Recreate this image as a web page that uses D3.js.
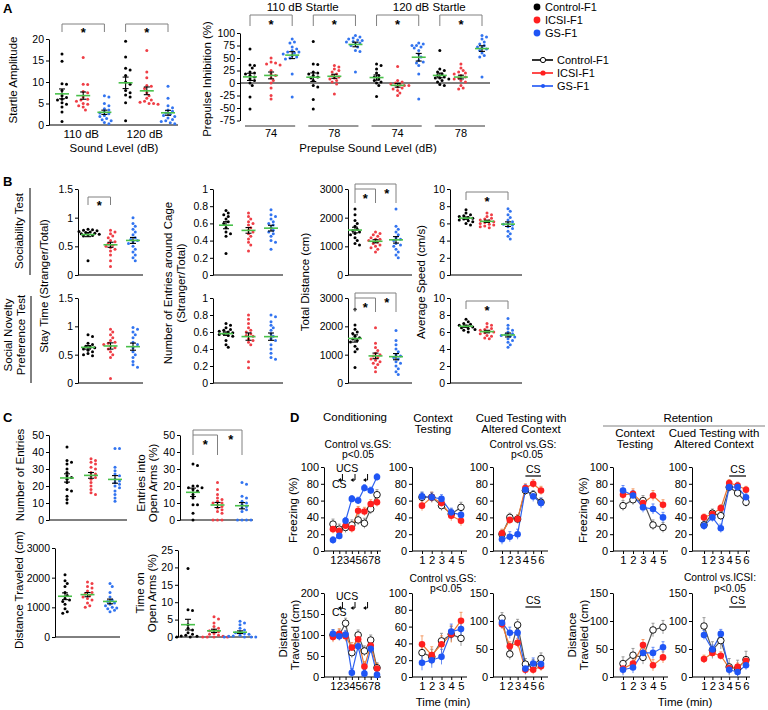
<!DOCTYPE html>
<html lang="en">
<head>
<meta charset="UTF-8">
<title>F1 behaviour</title>
<script src="https://d3js.org/d3.v7.min.js"></script>
<style>
  body { margin: 0; background: #fff; }
  svg text { font-family: "Liberation Sans", Arial, Helvetica, sans-serif; fill: #000; }
</style>
</head>
<body>
<svg id="fig" width="768" height="710"></svg>
<script>
// ---------- data ----------
const groupNames = ['Control-F1', 'ICSI-F1', 'GS-F1'];
const startleLevels = ['110 dB', '120 dB'];
const startleNames = ['110 dB Startle', '120 dB Startle'];
const prepulseLevels = ['74', '78', '74', '78'];

// A: startle amplitude, [control, icsi, gs]
const startle110 = [
  [16.5, 14.8, 9.6, 9.5, 8.0, 6.8, 6.4, 6.0, 5.8, 5.2, 4.8, 4.2, 3.0, 0.8],
  [15.7, 9.5, 9.4, 7.8, 7.5, 6.5, 6.0, 5.8, 5.5, 5.0, 4.8, 4.2, 3.5, 4.5],
  [6.8, 6.5, 5.0, 4.5, 3.8, 3.5, 3.0, 2.6, 2.2, 2.0, 1.5, 1.2, 1.0, 0.6, 0.3, 2.8]
];
const startle120 = [
  [19.5, 15.8, 13.2, 12.8, 11.5, 10.0, 9.5, 8.0, 7.5, 7.0, 6.5, 5.2, 1.0],
  [17.3, 12.3, 11.0, 9.2, 8.5, 7.5, 6.8, 6.2, 5.8, 5.5, 5.3, 5.0, 5.0, 9.0, 4.8],
  [9.0, 6.2, 4.5, 4.0, 3.5, 3.2, 2.8, 2.5, 2.2, 2.0, 1.6, 1.3, 1.0, 0.8, 0.5, 0.3]
];
// A: prepulse inhibition (%)
const ppi110_74 = [
  [68, 36, 35, 30, 22, 20, 18, 15, 12, 8, 5, 0, -5, -28, -52],
  [50, 42, 40, 38, 36, 25, 18, 15, 10, 5, 0, -10, -25, -32],
  [88, 82, 80, 72, 68, 62, 60, 58, 55, 52, 50, 48, 18, -28, 62, 65]
];
const ppi110_78 = [
  [83, 38, 37, 22, 20, 18, 15, 10, 5, -5, -8, -33, -52, 12],
  [35, 32, 28, 25, 22, 18, 15, 12, 10, 8, 5, 2, -2, -22],
  [95, 92, 90, 88, 86, 85, 83, 82, 80, 78, 75, 72, 65, 63, 22]
];
const ppi120_74 = [
  [38, 35, 28, 20, 15, 12, 8, 5, 2, 0, -5, -27],
  [33, 5, 0, -2, -3, -5, -5, -8, -10, -12, -15, -20, -25, 2],
  [80, 78, 75, 72, 70, 65, 58, 52, 45, 42, 40, 35, 18, -32, 75]
];
const ppi120_78 = [
  [65, 28, 25, 22, 18, 15, 12, 10, 8, 5, 2, -3, -5, 10],
  [38, 30, 25, 22, 18, 15, 12, 10, 8, 5, 2, -5, -10, -12, 20],
  [95, 92, 88, 82, 78, 75, 72, 70, 68, 65, 60, 55, 52, 12]
];

// B: three-chamber test
const socStay = [
  [0.80, 0.79, 0.78, 0.77, 0.76, 0.75, 0.74, 0.73, 0.72, 0.71, 0.70, 0.69, 0.68, 0.25],
  [0.78, 0.75, 0.72, 0.68, 0.65, 0.60, 0.58, 0.55, 0.52, 0.50, 0.48, 0.45, 0.42, 0.35, 0.25, 0.15],
  [1.0, 0.90, 0.85, 0.80, 0.75, 0.70, 0.65, 0.62, 0.60, 0.58, 0.55, 0.50, 0.45, 0.40, 0.35, 0.30, 0.25]
];
const socEntries = [
  [0.75, 0.72, 0.70, 0.68, 0.65, 0.62, 0.60, 0.55, 0.50, 0.48, 0.45, 0.25],
  [0.72, 0.68, 0.65, 0.62, 0.60, 0.58, 0.55, 0.52, 0.50, 0.48, 0.45, 0.42, 0.38, 0.35, 0.28],
  [0.76, 0.70, 0.68, 0.65, 0.62, 0.60, 0.58, 0.55, 0.52, 0.50, 0.48, 0.45, 0.40, 0.38, 0.30]
];
const socDistance = [
  [2300, 2100, 1900, 1800, 1700, 1600, 1550, 1500, 1450, 1400, 1300, 1200, 1100, 1050],
  [1500, 1450, 1400, 1350, 1300, 1250, 1200, 1150, 1100, 1050, 1000, 950, 900, 800, 1250],
  [2300, 1700, 1600, 1500, 1400, 1300, 1200, 1100, 1000, 900, 800, 700, 600, 1250, 1050]
];
const socSpeed = [
  [7.6, 7.2, 7.0, 6.9, 6.8, 6.7, 6.6, 6.5, 6.3, 6.2, 6.0, 5.8, 6.4],
  [7.2, 7.0, 6.8, 6.6, 6.5, 6.3, 6.2, 6.1, 6.0, 5.9, 5.8, 5.7, 5.6, 5.5, 6.4],
  [7.7, 7.4, 7.0, 6.7, 6.4, 6.2, 6.0, 5.9, 5.8, 5.6, 5.4, 5.1, 4.8, 4.5, 4.2]
];
const novStay = [
  [0.85, 0.82, 0.70, 0.68, 0.65, 0.63, 0.62, 0.60, 0.58, 0.55, 0.52, 0.50, 0.48],
  [0.95, 0.90, 0.85, 0.80, 0.75, 0.72, 0.70, 0.68, 0.65, 0.62, 0.60, 0.55, 0.50, 0.45, 0.08],
  [0.98, 0.95, 0.90, 0.85, 0.80, 0.72, 0.68, 0.62, 0.55, 0.50, 0.45, 0.38, 0.32, 0.28]
];
const novEntries = [
  [0.70, 0.68, 0.65, 0.63, 0.62, 0.61, 0.60, 0.59, 0.58, 0.57, 0.56, 0.55, 0.50, 0.45, 0.42],
  [0.80, 0.75, 0.70, 0.65, 0.62, 0.60, 0.58, 0.56, 0.55, 0.52, 0.50, 0.48, 0.45, 0.25, 0.18],
  [0.80, 0.78, 0.72, 0.68, 0.65, 0.62, 0.58, 0.55, 0.52, 0.50, 0.45, 0.40, 0.35, 0.30, 0.28]
];
const novDistance = [
  [2600, 2050, 1900, 1800, 1750, 1650, 1600, 1550, 1500, 1450, 1300, 1200, 1100, 550],
  [1950, 1400, 1250, 1150, 1050, 1000, 950, 900, 850, 800, 750, 700, 650, 550, 400],
  [1850, 1500, 1350, 1200, 1100, 1000, 950, 900, 850, 750, 700, 600, 500, 400, 300]
];
const novSpeed = [
  [7.5, 7.2, 7.0, 6.9, 6.8, 6.7, 6.6, 6.5, 6.4, 6.3, 6.2, 6.0],
  [7.0, 6.8, 6.6, 6.4, 6.3, 6.2, 6.1, 6.0, 5.9, 5.8, 5.6, 5.5, 5.3, 5.2],
  [7.6, 6.8, 6.4, 6.2, 6.0, 5.8, 5.7, 5.6, 5.5, 5.4, 5.2, 5.0, 4.8, 4.5, 4.2]
];

// C: elevated plus maze
const epmEntries = [
  [43, 35, 34, 33, 30, 28, 26, 25, 24, 22, 18, 17, 14, 12, 10],
  [36, 35, 34, 33, 31, 30, 28, 27, 26, 25, 24, 22, 20, 18, 16, 15],
  [42, 42, 31, 29, 27, 26, 24, 23, 22, 21, 20, 19, 17, 15, 13, 11]
];
const epmOpenEntries = [
  [33, 32, 20, 20, 19, 19, 18, 17, 15, 13, 9, 9, 4, 0],
  [22, 18, 15, 13, 12, 11, 10, 10, 9, 8, 7, 6, 5, 4, 0, 0, 0],
  [22, 21, 14, 13, 11, 10, 9, 8, 7, 6, 5, 0, 0, 0, 0]
];
const epmDistance = [
  [2100, 1900, 1800, 1700, 1500, 1400, 1300, 1250, 1200, 1100, 950, 850, 800],
  [1850, 1800, 1700, 1650, 1550, 1500, 1450, 1400, 1350, 1300, 1250, 1150, 1050, 1000],
  [1800, 1700, 1500, 1350, 1250, 1200, 1150, 1100, 1050, 1000, 980, 950, 900, 850]
];
const epmOpenTime = [
  [19.7, 7.8, 7.6, 3.5, 2.5, 2.0, 1.2, 0.8, 0.5, 0.3, 0.2, 0, 0],
  [5.8, 5.2, 4.0, 3.0, 2.5, 2.0, 1.8, 1.5, 1.0, 0.8, 0.5, 0.2, 0, 0, 0, 0],
  [4.5, 4.0, 3.5, 2.5, 2.0, 1.5, 1.2, 1.0, 0.8, 0.5, 0.3, 0.2, 0, 0, 0, 0]
];

// D: fear conditioning, means per minute [control, icsi, gs] and sem per series
const condFreeze = [[32, 26, 28, 31, 37, 33, 50, 67], [26, 24, 30, 27, 48, 47, 56, 58], [13, 18, 36, 62, 60, 75, 72, 88]];
const condFreezeSem = [6, 5, 4];
const ctxFreeze = [[64, 64, 54, 44, 52], [54, 64, 57, 42, 36], [65, 64, 62, 46, 43]];
const ctxFreezeSem = [6, 6, 5];
const cuedFreeze = [[20, 40, 38, 72, 67, 58], [21, 37, 38, 75, 80, 72], [14, 17, 20, 73, 65, 57]];
const cuedFreezeSem = [5, 5, 6];
const retCtxFreeze = [[54, 61, 60, 31, 28], [67, 68, 57, 66, 55], [72, 66, 52, 50, 40]];
const retCtxFreezeSem = [6, 6, 6];
const retCuedFreeze = [[31, 45, 42, 76, 69, 58], [40, 44, 51, 81, 78, 73], [30, 40, 27, 76, 76, 64]];
const retCuedFreezeSem = [5, 4, 5];
const condDist = [[100, 100, 128, 58, 100, 62, 88, 22], [95, 103, 97, 70, 90, 25, 75, 20], [103, 97, 101, 10, 73, 8, 67, 5]];
const condDistSem = [12, 12, 10];
const ctxDist = [[29, 24, 43, 51, 46], [39, 26, 39, 51, 67], [17, 20, 24, 54, 57]];
const ctxDistSem = [9, 10, 9];
const cuedDist = [[105, 41, 93, 23, 21, 33], [94, 55, 61, 13, 13, 19], [97, 79, 79, 15, 24, 23]];
const cuedDistSem = [10, 8, 10];
const retCtxDist = [[24, 39, 35, 84, 89], [15, 24, 57, 21, 35], [13, 17, 43, 43, 53]];
const retCtxDistSem = [12, 10, 10];
const retCuedDist = [[91, 48, 65, 18, 15, 31], [32, 43, 38, 16, 18, 29], [75, 49, 77, 13, 9, 21]];
const retCuedDistSem = [15, 7, 8];
const shockAt = [2.5, 4.5, 6.5];   // UCS arrows between minutes
const cueWindow = [4, 6];          // CS period in cued tests

// tick values
const ticksStartle = [0, 5, 10, 15, 20];
const ticksPPI = [-75, -50, -25, 0, 25, 50, 75, 100];
const ticksStay = [0, 0.5, 1, 1.5];
const ticksRatio = [0, 0.2, 0.4, 0.6, 0.8, 1];
const ticksDist3000 = [0, 1000, 2000, 3000];
const ticksSpeed = [0, 2, 4, 6, 8, 10];
const ticksEntries = [0, 10, 20, 30, 40, 50];
const ticksOpenTime = [0, 5, 10, 15, 20, 25];
const ticksFreeze = [0, 20, 40, 60, 80, 100];
const ticksDist200 = [0, 50, 100, 150, 200];
const ticksDist100 = [0, 20, 40, 60, 80, 100];
const ticksDist150 = [0, 50, 100, 150];

// ---------- drawing ----------
const COL = ['#000000', '#ef3e46', '#3274f0'];
const MARK = ['#000000', '#ff1f1f', '#1f55f5'];
const LINE = ['#555555', '#f07830', '#2f62f0'];
const GREEN = '#49c04a';
const svg = d3.select('#fig');

function txt(x, y, s, size, anchor, weight) {
  return svg.append('text').attr('x', x).attr('y', y).attr('font-size', size)
    .attr('text-anchor', anchor || 'middle').attr('font-weight', weight || 'normal').text(s);
}
function vtxt(cx, cy, s, size) {
  return svg.append('text').attr('transform', `translate(${cx + size * 0.35},${cy}) rotate(-90)`)
    .attr('font-size', size).attr('text-anchor', 'middle').text(s);
}
function hline(x1, x2, y, col, w) {
  svg.append('line').attr('x1', x1).attr('x2', x2).attr('y1', y).attr('y2', y)
    .attr('stroke', col || '#000').attr('stroke-width', w || 1);
}
function vline(x, y1, y2, col, w) {
  svg.append('line').attr('x1', x).attr('x2', x).attr('y1', y1).attr('y2', y2)
    .attr('stroke', col || '#000').attr('stroke-width', w || 1);
}
function styleAxis(g, size) {
  g.attr('font-family', '"Liberation Sans", Arial, sans-serif').attr('font-size', size);
  g.selectAll('text').attr('fill', '#000');
  g.selectAll('line').attr('stroke', '#000');
  g.select('.domain').attr('stroke', '#000');
}
function star(x, cy) { txt(x, cy + 7.5, '*', 13, 'middle', 'bold'); }
function bracket(x1, x2, yt, yb, sx, sy) {
  svg.append('path').attr('d', `M${x1},${yb}V${yt}H${x2}V${yb}`)
    .attr('fill', 'none').attr('stroke', '#808080');
  star(sx, sy);
}
function bracket2(p, yt, yb) { // control vs icsi and control vs gs
  const a = p.x(0), b = p.x(1), c = p.x(2);
  svg.append('path').attr('d', `M${a},${yb}V${yt}H${c}V${yb}M${a},${yt + 5}H${b}V${yb}`)
    .attr('fill', 'none').attr('stroke', '#808080');
  star((a + b) / 2, yt + 11);
  star((b + c) / 2 + 1, yt + 6);
}

function dodge(pys, r) {
  const pts = pys.map(py => ({ py, dx: 0 }));
  const done = [];
  [...pts].sort((a, b) => a.py - b.py).forEach(p => {
    for (let k = 0; k < 40; k++) {
      const off = (k % 2 ? 1 : -1) * Math.ceil(k / 2) * r * 1.5;
      if (done.every(q => (q.dx - off) ** 2 + (q.py - p.py) ** 2 >= (2 * r + 0.2) ** 2)) { p.dx = off; break; }
    }
    done.push(p);
  });
  return pts;
}

function scatter(c) {
  const y = d3.scaleLinear().domain([c.ticks[0], c.ticks[c.ticks.length - 1]]).range([c.yb, c.yt]);
  const x = d3.scalePoint().domain(d3.range(c.sets.length)).range(c.xr);
  const ax = svg.append('g').attr('transform', `translate(${c.ax},0)`)
    .call(d3.axisLeft(y).tickValues(c.ticks).tickSize(3).tickSizeOuter(0).tickPadding(2).tickFormat(d => String(d)));
  styleAxis(ax, 10.5);
  if (c.xe) hline(c.ax, c.xe, c.yb);
  if (c.zeroTo) hline(c.ax, c.zeroTo, y(0), '#000', 1.2);
  c.sets.forEach((vals, i) => {
    const cx = x(i);
    const pts = dodge(vals.map(v => y(v)), 1.5);
    svg.append('g').selectAll('circle').data(pts).join('circle')
      .attr('cx', d => cx + d.dx).attr('cy', d => d.py).attr('r', 1.5).attr('fill', COL[i % 3]);
    const m = d3.mean(vals), se = d3.deviation(vals) / Math.sqrt(vals.length);
    const g = svg.append('g').attr('stroke', '#000').attr('stroke-width', 1.1);
    g.append('line').attr('x1', cx).attr('x2', cx).attr('y1', y(m - se)).attr('y2', y(m + se));
    [m - se, m + se].forEach(v => g.append('line').attr('x1', cx - 3).attr('x2', cx + 3).attr('y1', y(v)).attr('y2', y(v)));
    svg.append('line').attr('x1', cx - 7).attr('x2', cx + 7).attr('y1', y(m)).attr('y2', y(m))
      .attr('stroke', GREEN).attr('stroke-width', 1.6);
  });
  return { x, y };
}

function lines(c) {
  const y = d3.scaleLinear().domain([c.ticks[0], c.ticks[c.ticks.length - 1]]).range([c.yb, c.yt]);
  const n = c.data[0].length;
  const x = d3.scaleLinear().domain([1, n]).range(c.xr);
  const ay = svg.append('g').attr('transform', `translate(${c.ax},0)`)
    .call(d3.axisLeft(y).tickValues(c.ticks).tickSize(3).tickSizeOuter(0).tickPadding(2));
  styleAxis(ay, 11);
  const ab = svg.append('g').attr('transform', `translate(0,${c.yb})`)
    .call(d3.axisBottom(x).tickValues(d3.range(1, n + 1)).tickSize(3).tickPadding(2).tickFormat(d3.format('d')));
  styleAxis(ab, 11.3);
  ab.select('.domain').remove();
  hline(c.ax, c.xe, c.yb);
  c.data.forEach((vals, s) => {
    const g = svg.append('g').attr('stroke', s === 0 ? '#777' : LINE[s]).attr('stroke-width', 0.9).attr('opacity', 0.8);
    vals.forEach((v, i) => {
      const px = x(i + 1), lo = y(Math.max(0, v - c.sem[s])), hi = y(v + c.sem[s]);
      g.append('line').attr('x1', px).attr('x2', px).attr('y1', lo).attr('y2', hi);
      g.append('line').attr('x1', px - 1.5).attr('x2', px + 1.5).attr('y1', hi).attr('y2', hi);
    });
  });
  const ln = d3.line().x((d, i) => x(i + 1)).y(d => y(d));
  c.data.forEach((vals, s) => {
    svg.append('path').attr('d', ln(vals)).attr('fill', 'none').attr('stroke', LINE[s]).attr('stroke-width', 1.2);
  });
  c.data.forEach((vals, s) => {
    svg.append('g').selectAll('circle').data(vals).join('circle')
      .attr('cx', (d, i) => x(i + 1)).attr('cy', d => y(d)).attr('r', 3.3)
      .attr('fill', s === 0 ? '#fff' : MARK[s]).attr('stroke', s === 0 ? '#000' : 'none').attr('stroke-width', 0.9);
  });
  return { x, y };
}

function shockMarks(ch, yUcs) {
  txt(336, yUcs, 'UCS', 10.5, 'start');
  shockAt.forEach(m => {
    const px = ch.x(m);
    svg.append('path').attr('d', `M${px},${yUcs + 2}V${yUcs + 8}H${px - 2}`).attr('fill', 'none').attr('stroke', '#000').attr('stroke-width', 1);
    svg.append('path').attr('d', `M${px - 4.5},${yUcs + 8}l3,-2v4z`).attr('fill', '#000');
  });
  txt(332, yUcs + 16, 'CS', 10.5, 'start');
}
function cueMark(ch, yLine) {
  hline(ch.x(cueWindow[0]), ch.x(cueWindow[1]), yLine, '#000', 1.2);
  txt(ch.x((cueWindow[0] + cueWindow[1]) / 2), yLine - 3, 'CS', 10.5);
}

// ===== Panel A =====
txt(3, 13, 'A', 13, 'start', 'bold');
const aL = scatter({ sets: [...startle110, ...startle120], ticks: ticksStartle, ax: 49, xe: 178, xr: [62, 168], yb: 125, yt: 39 });
bracket(aL.x(0), aL.x(2), 24, 32, aL.x(1), 29);
bracket(aL.x(3), aL.x(5), 24, 32, aL.x(4), 29);
startleLevels.forEach((s, i) => txt(aL.x(i * 3 + 1) - 2, 138, s, 11.5));
txt(114, 152, 'Sound Level (dB)', 11.5);
vtxt(13, 80, 'Startle Amplitude', 11.5);

const aR = scatter({ sets: [...ppi110_74, ...ppi110_78, ...ppi120_74, ...ppi120_78], ticks: ticksPPI,
  ax: 240, zeroTo: 490, xr: [250, 482], yb: 120.5, yt: 33 });
prepulseLevels.forEach((s, k) => {
  const a = aR.x(k * 3), c = aR.x(k * 3 + 2);
  bracket(a, c, 15, 26, (a + c) / 2, 21);
  hline(a - 5, c + 3, 126, '#000', 0.8);
  txt((a + c) / 2, 137, s, 11);
});
startleNames.forEach((s, k) => txt((aR.x(k * 6) + aR.x(k * 6 + 5)) / 2, 11, s, 11.5));
txt(368, 152, 'Prepulse Sound Level (dB)', 11.5);
vtxt(207, 79, 'Prepulse Inhibition (%)', 11.5);

// legend
groupNames.forEach((nm, i) => {
  svg.append('circle').attr('cx', 537).attr('cy', 7 + i * 13).attr('r', 3.4).attr('fill', MARK[i]);
  txt(545, 11 + i * 13, nm, 11, 'start');
});
groupNames.forEach((nm, i) => {
  const yy = 60 + i * 13;
  hline(532, 553, yy, ['#000', '#ff1f1f', '#1f55f5'][i], 1.6);
  svg.append('circle').attr('cx', 543).attr('cy', yy).attr('r', i === 2 ? 2 : 2.6)
    .attr('fill', i === 0 ? '#fff' : MARK[i]).attr('stroke', i === 0 ? '#000' : 'none');
  txt(557, yy + 4, nm, 11, 'start');
});

// ===== Panel B =====
txt(3, 186, 'B', 13, 'start', 'bold');
vtxt(19, 231, 'Sociability Test', 11.5);
vline(30, 188, 275);
vtxt(8, 335, 'Social Novelty', 11.5);
vtxt(21, 335, 'Preference Test', 11.5);
vline(31, 296, 383);
vtxt(44, 286, 'Stay Time (Stranger/Total)', 11.5);
vtxt(168, 283, 'Number of Entries around Cage', 11.5);
vtxt(181, 283, '(Stranger/Total)', 11.5);
vtxt(305, 282, 'Total Distance (cm)', 11.5);
vtxt(421, 282, 'Average Speed (cm/s)', 11.5);

const rowsB = [
  { yb: 275, yt: 189, sets: [socStay, socEntries, socDistance, socSpeed] },
  { yb: 383, yt: 298, sets: [novStay, novEntries, novDistance, novSpeed] }
];
const colsB = [
  { ax: 78, xr: [88, 133], xe: 143, ticks: ticksStay },
  { ax: 213, xr: [226, 271], xe: 283, ticks: ticksRatio },
  { ax: 348, xr: [355, 396], xe: 412, ticks: ticksDist3000 },
  { ax: 450, xr: [466, 508], xe: 522, ticks: ticksSpeed }
];
rowsB.forEach((row, r) => {
  const p = colsB.map((col, k) => scatter(Object.assign({}, col, { sets: row.sets[k], yb: row.yb, yt: row.yt })));
  if (r === 0) bracket(p[0].x(0), p[0].x(1), 197, 205, (p[0].x(0) + p[0].x(1)) / 2, 202);
  bracket2(p[2], row.yt - 5, row.yt + 14);
  bracket(p[3].x(0), p[3].x(2), row.yt + 3, row.yt + 11, p[3].x(1), row.yt + 9);
});

// ===== Panel C =====
txt(3, 422, 'C', 13, 'start', 'bold');
scatter({ sets: epmEntries, ticks: ticksEntries, ax: 49, xe: 127, xr: [67, 115], yb: 520, yt: 435 });
const cOpen = scatter({ sets: epmOpenEntries, ticks: ticksEntries, ax: 180, xe: 253, xr: [193, 242], yb: 520, yt: 435 });
bracket2(cOpen, 430, 455);
scatter({ sets: epmDistance, ticks: ticksDist3000, ax: 55, xe: 120, xr: [65, 110], yb: 637, yt: 548 });
scatter({ sets: epmOpenTime, ticks: ticksOpenTime, ax: 178, xe: 253, xr: [188, 240], yb: 637, yt: 550 });
vtxt(20, 475, 'Number of Entries', 11.5);
vtxt(141, 483, 'Entries into', 11.5);
vtxt(153, 483, 'Open Arms (%)', 11.5);
vtxt(19, 590, 'Distance Traveled (cm)', 11.5);
vtxt(140, 593, 'Time on', 11.5);
vtxt(152, 593, 'Open Arms (%)', 11.5);

// ===== Panel D =====
txt(290, 422, 'D', 13, 'start', 'bold');
txt(355, 421, 'Conditioning', 11.5);
txt(433, 422, 'Context', 11.5); txt(433, 433, 'Testing', 11.5);
txt(521, 422, 'Cued Testing with', 11.5); txt(521, 433, 'Altered Context', 11.5);
txt(358, 448, 'Control vs.GS:', 10.3); txt(358, 458, 'p<0.05', 10.3);
txt(523, 448, 'Control vs.GS:', 10.3); txt(527, 458, 'p<0.05', 10.3);
txt(688, 422, 'Retention', 11.5);
hline(603, 765, 426, '#808080', 1);
txt(635, 437, 'Context', 11.5); txt(635, 448, 'Testing', 11.5);
txt(714, 437, 'Cued Testing with', 11.5); txt(714, 448, 'Altered Context', 11.5);

const colsD = [
  { ax: 324, xr: [333, 377], xe: 381 },
  { ax: 412, xr: [422, 461], xe: 467 },
  { ax: 493, xr: [502, 541], xe: 548 },
  { ax: 613, xr: [623, 663], xe: 668 },
  { ax: 692, xr: [704, 746], xe: 750 }
];
const freezeSets = [[condFreeze, condFreezeSem], [ctxFreeze, ctxFreezeSem], [cuedFreeze, cuedFreezeSem],
  [retCtxFreeze, retCtxFreezeSem], [retCuedFreeze, retCuedFreezeSem]];
const distSets = [[condDist, condDistSem, ticksDist200], [ctxDist, ctxDistSem, ticksDist100], [cuedDist, cuedDistSem, ticksDist150],
  [retCtxDist, retCtxDistSem, ticksDist150], [retCuedDist, retCuedDistSem, ticksDist150]];

const dTop = freezeSets.map((s, k) => lines(Object.assign({}, colsD[k], { data: s[0], sem: s[1], ticks: ticksFreeze, yb: 551, yt: 467 })));
const dBot = distSets.map((s, k) => lines(Object.assign({}, colsD[k], { data: s[0], sem: s[1], ticks: s[2], yb: 677, yt: 593 })));

shockMarks(dTop[0], 472);
shockMarks(dBot[0], 600);
cueMark(dTop[2], 476); cueMark(dTop[4], 476);
cueMark(dBot[2], 607); cueMark(dBot[4], 607);

txt(443, 582, 'Control vs.GS:', 10.3); txt(446, 592, 'p<0.05', 10.3);
txt(720, 581, 'Control vs.ICSI:', 10.3); txt(730, 592, 'p<0.05', 10.3);

vtxt(293, 510, 'Freezing (%)', 11.5);
vtxt(583, 510, 'Freezing (%)', 11.5);
vtxt(283, 635, 'Distance', 11.5); vtxt(295, 635, 'Traveled (cm)', 11.5);
vtxt(572, 635, 'Distance', 11.5); vtxt(584, 635, 'Traveled (cm)', 11.5);
txt(443, 706, 'Time (min)', 11.5);
txt(685, 706, 'Time (min)', 11.5);
</script>
</body>
</html>
